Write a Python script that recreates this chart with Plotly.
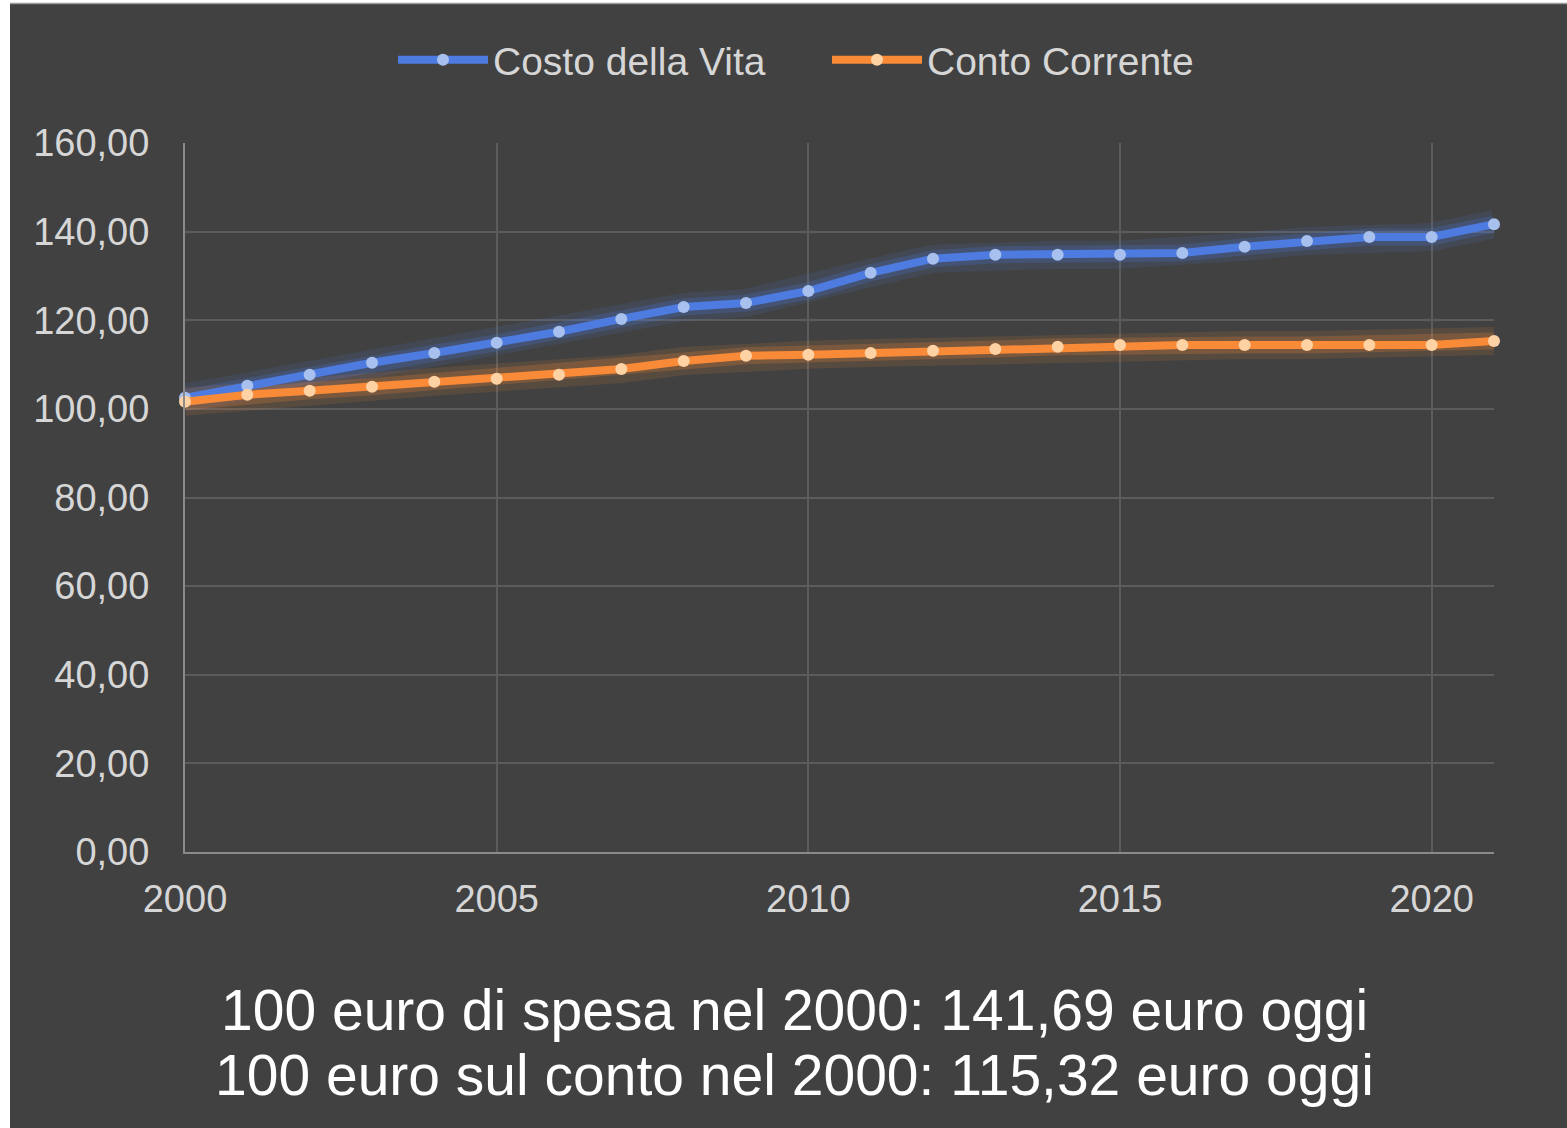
import plotly.graph_objects as go

years = list(range(2000, 2022))
costo_vita = [102.5, 105.2, 107.7, 110.4, 112.6, 114.9, 117.4, 120.3, 123.0, 123.9, 126.6,
              130.7, 133.9, 134.8, 134.8, 134.8, 135.2, 136.6, 137.9, 138.8, 138.8, 141.69]
conto_corrente = [101.6, 103.2, 104.1, 105.0, 106.1, 106.8, 107.7, 109.0, 110.8, 112.0, 112.2,
                  112.6, 113.1, 113.5, 114.0, 114.4, 114.4, 114.4, 114.4, 114.4, 114.4, 115.32]
series_names = ["Costo della Vita", "Conto Corrente"]
caption_lines = ["100 euro di spesa nel 2000: 141,69 euro oggi",
                 "100 euro sul conto nel 2000: 115,32 euro oggi"]

BG = "#414141"
BLUE = "#4d7be0"
BLUE_M = "#a8c0ee"
ORANGE = "#f88a38"
ORANGE_M = "#ffd2a4"
TXT = "#d6d6d6"

fig = go.Figure()

for vals, col in [(costo_vita, BLUE), (conto_corrente, ORANGE)]:
    for w, op in [(28, 0.12), (17, 0.22)]:
        fig.add_trace(go.Scatter(x=years, y=vals, mode="lines", showlegend=False,
                                 hoverinfo="skip", opacity=op, cliponaxis=False,
                                 line=dict(color=col, width=w)))

fig.add_trace(go.Scatter(x=years, y=costo_vita, mode="lines+markers", name=series_names[0],
                         cliponaxis=False,
                         line=dict(color=BLUE, width=8),
                         marker=dict(color=BLUE_M, size=12)))
fig.add_trace(go.Scatter(x=years, y=conto_corrente, mode="lines+markers", name=series_names[1],
                         cliponaxis=False,
                         line=dict(color=ORANGE, width=8),
                         marker=dict(color=ORANGE_M, size=12)))

W, H = 1567, 1128
L, R, T, B = 185, 73, 143, 276
pw, ph = W - L - R, H - T - B

def px2x(px):
    return (px - L) / pw

def py2y(py):
    return 1 - (py - T) / ph

shapes = [
    dict(type="rect", xref="paper", yref="paper", x0=px2x(0), x1=px2x(10),
         y0=py2y(H), y1=py2y(0), fillcolor="white", line=dict(width=0), layer="above"),
    dict(type="rect", xref="paper", yref="paper", x0=px2x(0), x1=px2x(W),
         y0=py2y(3), y1=py2y(0), fillcolor="white", line=dict(width=0), layer="above"),
    dict(type="line", xref="paper", yref="paper", x0=px2x(10), x1=px2x(W),
         y0=py2y(3.5), y1=py2y(3.5), line=dict(color="#9a9a9a", width=1.5), layer="above"),
]

annotations = [
    dict(text=caption_lines[0], xref="paper", yref="paper", x=px2x(794), y=py2y(1010),
         xanchor="center", yanchor="middle", showarrow=False,
         font=dict(family="Liberation Sans, Arial", size=57, color="white")),
    dict(text=caption_lines[1], xref="paper", yref="paper", x=px2x(794), y=py2y(1075),
         xanchor="center", yanchor="middle", showarrow=False,
         font=dict(family="Liberation Sans, Arial", size=57, color="white")),
]

fig.update_layout(
    width=W, height=H,
    margin=dict(l=L, r=R, t=T, b=B, pad=0),
    paper_bgcolor=BG, plot_bgcolor=BG,
    separators=",.",
    font=dict(family="Liberation Sans, Arial", color=TXT, size=38),
    shapes=shapes, annotations=annotations,
    legend=dict(orientation="h", x=px2x(393), y=py2y(60), xanchor="left", yanchor="middle",
                font=dict(size=39, color=TXT), itemwidth=90, bgcolor="rgba(0,0,0,0)",
                entrywidth=329, traceorder="normal"),
    xaxis=dict(range=[2000, 2021], tickvals=[2000, 2005, 2010, 2015, 2020],
               showgrid=True, gridcolor="#5c5c5c", gridwidth=2,
               showline=True, linecolor="#8a8a8a", linewidth=2,
               zeroline=False, ticks="", ticklabelstandoff=12,
               tickfont=dict(size=38, color=TXT)),
    yaxis=dict(range=[0, 160], dtick=20, tickformat=".2f",
               showgrid=True, gridcolor="#5c5c5c", gridwidth=2,
               showline=True, linecolor="#8a8a8a", linewidth=2,
               zeroline=False, ticks="", ticklabelstandoff=26,
               tickfont=dict(size=38, color=TXT)),
)

fig.write_html("out.html")
